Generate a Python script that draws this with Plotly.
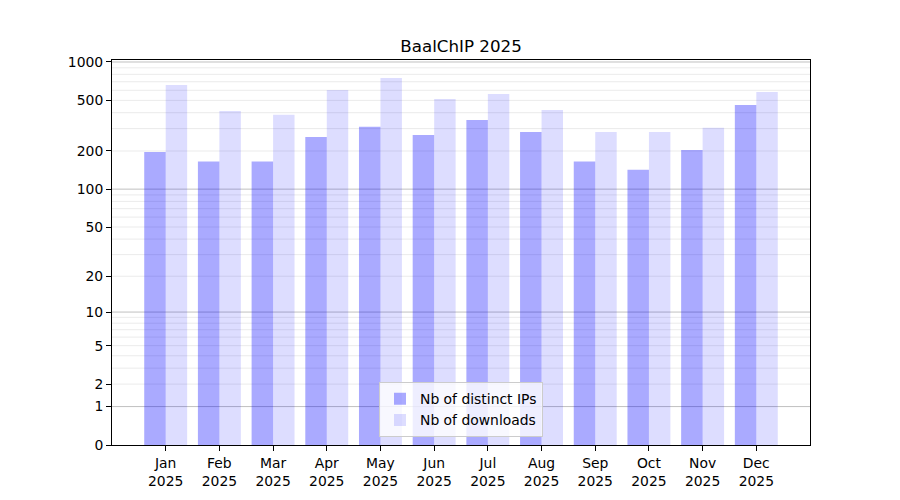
import numpy as np
import plotly.graph_objects as go

months = ["Jan", "Feb", "Mar", "Apr", "May", "Jun", "Jul", "Aug", "Sep", "Oct", "Nov", "Dec"]
year = "2025"
distinct_ips = [196, 165, 165, 258, 310, 267, 351, 282, 165, 142, 204, 460]
downloads = [660, 413, 385, 604, 750, 513, 561, 420, 282, 282, 304, 582]
ytick_values = [0, 1, 2, 5, 10, 20, 50, 100, 200, 500, 1000]
major_grid = [1, 10, 100, 1000]
minor_grid = [m * d for d in (1, 10, 100) for m in range(2, 10)]

def tr(v):
    return np.log10(1 + np.asarray(v, dtype=float))

x = list(range(len(months)))
font = "DejaVu Sans"

fig = go.Figure()
fig.add_trace(go.Bar(x=x, y=tr(distinct_ips), name="Nb of distinct IPs",
                     marker=dict(color="rgba(0,0,255,0.333)", line=dict(width=0)),
                     customdata=distinct_ips, hovertemplate="%{customdata}<extra></extra>"))
fig.add_trace(go.Bar(x=x, y=tr(downloads), name="Nb of downloads",
                     marker=dict(color="rgba(0,0,255,0.133)", line=dict(width=0)),
                     customdata=downloads, hovertemplate="%{customdata}<extra></extra>"))

shapes = []
for v in minor_grid:
    shapes.append(dict(type="line", xref="paper", x0=0, x1=1, yref="y", y0=float(tr(v)), y1=float(tr(v)),
                       line=dict(color="rgb(235,235,235)", width=1), layer="below"))
for v in major_grid:
    shapes.append(dict(type="line", xref="paper", x0=0, x1=1, yref="y", y0=float(tr(v)), y1=float(tr(v)),
                       line=dict(color="rgb(192,192,192)", width=1), layer="below"))

fig.update_layout(
    width=900, height=500,
    margin=dict(l=104, r=98, t=52, b=63),
    paper_bgcolor="white", plot_bgcolor="white",
    font=dict(family=font, size=13.9, color="black"),
    title=dict(text="BaalChIP 2025", x=0.5, xanchor="center", xref="paper",
               y=1 - 38 / 500, yref="container", yanchor="middle",
               font=dict(family=font, size=16.7, color="black")),
    barmode="group", bargap=0.2, bargroupgap=0,
    shapes=shapes,
    showlegend=True,
    legend=dict(x=0.5, xanchor="center", y=0.02, yanchor="bottom",
                bgcolor="rgba(255,255,255,0.8)", bordercolor="#cccccc", borderwidth=1,
                font=dict(family=font, size=13.9), tracegroupgap=0),
)
fig.update_xaxes(range=[-1, 12], tickmode="array", tickvals=x,
                 ticktext=[f"{m}<br>{year}" for m in months],
                 showgrid=False, zeroline=False, showline=True, linecolor="black", linewidth=1,
                 mirror=True, ticks="outside", ticklen=5, tickcolor="black")
fig.update_yaxes(range=[0, 3.016], tickmode="array", tickvals=tr(ytick_values),
                 ticktext=[str(v) for v in ytick_values],
                 showgrid=False, zeroline=False, showline=True, linecolor="black", linewidth=1,
                 mirror=True, ticks="outside", ticklen=5, tickcolor="black")

fig.write_html("out.html")
